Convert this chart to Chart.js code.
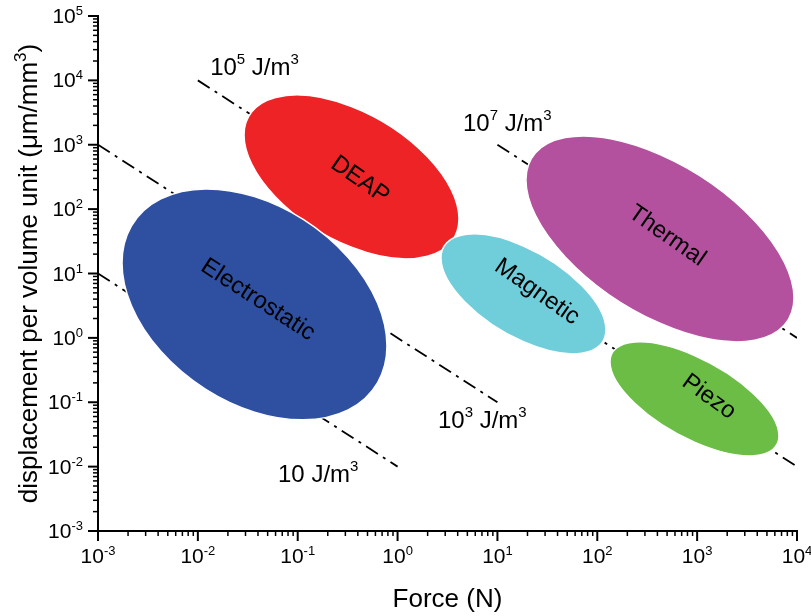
<!DOCTYPE html>
<html>
<head>
<meta charset="utf-8">
<script src="https://cdn.jsdelivr.net/npm/chart.js@4"></script>
<style>
body{margin:0;background:#fff;}
canvas{display:block;}
</style>
</head>
<body>
<canvas id="chart" width="811" height="616"></canvas>
<script>
const xTicks = [1e-3, 1e-2, 1e-1, 1e0, 1e1, 1e2, 1e3, 1e4];
const yTicks = [1e-3, 1e-2, 1e-1, 1e0, 1e1, 1e2, 1e3, 1e4, 1e5];

// constant energy density lines (J/m3): end points as [force N, displacement um/mm3]
const energyExp = [1, 3, 5, 7];
const energyStart = [[1e-3, 10], [1e-3, 1e3], [1e-2, 1e4], [10, 1e3]];
const energyEnd = [[1, 1e-2], [10, 1e-1], [1e4, 1e-2], [1e4, 1]];
const energyLabelAt = [[0.0665, 0.0058], [2.66, 0.040], [0.0139, 12100], [4.73, 1640]];

// actuator regions: force range, displacement range, displacement at the leftmost point
const regionNames = ["DEAP", "Electrostatic", "Magnetic", "Thermal", "Piezo"];
const regionForce = [[0.029, 4.12], [0.00174, 0.783], [2.72, 122], [19.3, 9330], [134, 6600]];
const regionDisp = [[16.9, 5930], [0.0533, 206], [0.565, 41.2], [0.867, 1370], [0.0147, 0.867]];
const regionDispAtLeft = [1420, 14.6, 17.5, 284, 0.424];
const regionLabelAt = [[0.42, 284], [0.040, 3.89], [24.9, 5.18], [499, 38.4], [1315, 0.121]];

const regionColors = ["#ee2326", "#2f4fa0", "#70cdda", "#b4519e", "#6bbd45"];
const regionLabelAngle = [35, 33, 35, 35, 36];

const FONT = '"Liberation Sans", Arial, sans-serif';

function drawParts(ctx, parts, x, y, align, size, supSize, raise) {
  const fonts = parts.map(p => (p[1] ? supSize : size) + 'px ' + FONT);
  const widths = parts.map((p, i) => { ctx.font = fonts[i]; return ctx.measureText(p[0]).width; });
  const total = widths.reduce((s, w) => s + w, 0);
  let cx = align === 'center' ? x - total / 2 : align === 'right' ? x - total : x;
  ctx.textAlign = 'left';
  ctx.textBaseline = 'alphabetic';
  parts.forEach((p, i) => {
    ctx.font = fonts[i];
    ctx.fillText(p[0], cx, p[1] ? y - raise : y);
    cx += widths[i];
  });
}

function seg(ctx, x1, y1, x2, y2, w) {
  ctx.lineWidth = w;
  ctx.beginPath();
  ctx.moveTo(x1, y1);
  ctx.lineTo(x2, y2);
  ctx.stroke();
}

const regionsPlugin = {
  id: 'regions',
  afterDatasetsDraw(chart) {
    const {ctx, scales: {x, y}} = chart;
    ctx.save();
    regionNames.forEach((name, i) => {
      const x0 = x.getPixelForValue(regionForce[i][0]);
      const x1 = x.getPixelForValue(regionForce[i][1]);
      const y0 = y.getPixelForValue(regionDisp[i][0]);
      const y1 = y.getPixelForValue(regionDisp[i][1]);
      const cx = (x0 + x1) / 2, cy = (y0 + y1) / 2;
      const sx = (x1 - x0) / 2, sy = (y0 - y1) / 2;
      const r = y.getPixelForValue(regionDispAtLeft[i]) - cy;
      ctx.beginPath();
      ctx.save();
      ctx.transform(sx, -r, 0, Math.sqrt(sy * sy - r * r), cx, cy);
      ctx.arc(0, 0, 1, 0, Math.PI * 2);
      ctx.restore();
      ctx.fillStyle = regionColors[i];
      ctx.fill();
      ctx.strokeStyle = '#fff';
      ctx.lineWidth = 1.5;
      ctx.stroke();
    });
    ctx.fillStyle = '#000';
    regionNames.forEach((name, i) => {
      ctx.save();
      ctx.translate(x.getPixelForValue(regionLabelAt[i][0]), y.getPixelForValue(regionLabelAt[i][1]));
      ctx.rotate(regionLabelAngle[i] * Math.PI / 180);
      ctx.font = '24px ' + FONT;
      ctx.textAlign = 'center';
      ctx.textBaseline = 'middle';
      ctx.fillText(name, 0, 0);
      ctx.restore();
    });
    energyExp.forEach((e, i) => {
      const px = x.getPixelForValue(energyLabelAt[i][0]);
      const py = y.getPixelForValue(energyLabelAt[i][1]);
      const parts = e === 1 ? [['10 J/m', false], ['3', true]]
        : [['10', false], [String(e), true], [' J/m', false], ['3', true]];
      drawParts(ctx, parts, px - 2, py, 'left', 24, 15, 11);
    });
    ctx.restore();
  }
};

const axesPlugin = {
  id: 'axesDecor',
  afterDraw(chart) {
    const {ctx, chartArea: a, scales: {x, y}} = chart;
    ctx.save();
    ctx.strokeStyle = '#000';
    ctx.fillStyle = '#000';
    xTicks.forEach((v, i) => {
      const px = x.getPixelForValue(v);
      seg(ctx, px, a.bottom, px, a.bottom + 10, 2);
      if (i < xTicks.length - 1) {
        for (let m = 2; m < 10; m++) {
          const p = x.getPixelForValue(v * m);
          seg(ctx, p, a.bottom, p, a.bottom + 5, 1.5);
        }
      }
      drawParts(ctx, [['10', false], [String(Math.round(Math.log10(v))), true]], px, a.bottom + 32, 'center', 21, 13, 8);
    });
    yTicks.forEach((v, i) => {
      const py = y.getPixelForValue(v);
      seg(ctx, a.left, py, a.left - 10, py, 2);
      if (i < yTicks.length - 1) {
        for (let m = 2; m < 10; m++) {
          const p = y.getPixelForValue(v * m);
          seg(ctx, a.left, p, a.left - 5, p, 1.5);
        }
      }
      drawParts(ctx, [['10', false], [String(Math.round(Math.log10(v))), true]], a.left - 15, py + 7, 'right', 21, 13, 8);
    });
    drawParts(ctx, [['Force (N)', false]], (a.left + a.right) / 2, 607, 'center', 26, 26, 0);
    ctx.save();
    ctx.translate(37, (a.top + a.bottom) / 2);
    ctx.rotate(-Math.PI / 2);
    drawParts(ctx, [['displacement per volume unit (\u03bcm/mm', false], ['3', true], [')', false]], 0, 0, 'center', 26, 17, 11);
    ctx.restore();
    ctx.restore();
  }
};

const datasets = energyExp.map((e, i) => ({
  label: '10^' + e + ' J/m3',
  data: [{x: energyStart[i][0], y: energyStart[i][1]}, {x: energyEnd[i][0], y: energyEnd[i][1]}],
  borderColor: '#000',
  borderWidth: 1.8,
  borderDash: [14, 6, 3, 6],
  pointRadius: 0,
  fill: false
}));

new Chart(document.getElementById('chart'), {
  type: 'line',
  data: {datasets: datasets},
  options: {
    responsive: false,
    animation: false,
    layout: {padding: {left: 98, top: 16, right: 14, bottom: 85}},
    plugins: {legend: {display: false}, tooltip: {enabled: false}},
    scales: {
      x: {
        type: 'logarithmic', min: 1e-3, max: 1e4,
        grid: {display: false, drawTicks: false, tickLength: 0},
        border: {display: true, color: '#000', width: 2},
        ticks: {display: false}
      },
      y: {
        type: 'logarithmic', min: 1e-3, max: 1e5,
        grid: {display: false, drawTicks: false, tickLength: 0},
        border: {display: true, color: '#000', width: 2},
        ticks: {display: false}
      }
    }
  },
  plugins: [regionsPlugin, axesPlugin]
});
</script>
</body>
</html>
